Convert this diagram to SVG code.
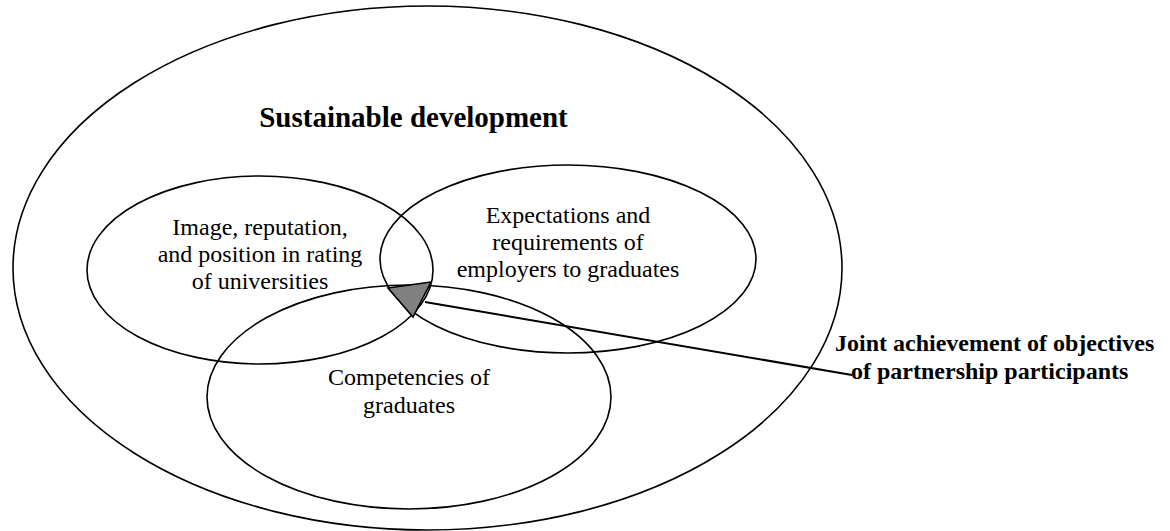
<svg xmlns="http://www.w3.org/2000/svg" width="1170" height="531" viewBox="0 0 1170 531">
<style>
.ring{fill:none;stroke:#000;stroke-width:1.6}
.t{font-family:"Liberation Serif","Times New Roman",serif;font-size:24px;fill:#000;text-anchor:middle}
.b{font-family:"Liberation Serif","Times New Roman",serif;font-weight:bold;fill:#000}
</style>
<rect width="1170" height="531" fill="#fff"/>
<g id="sustainable-development">
<ellipse class="ring" cx="427.5" cy="268" rx="414.5" ry="262"/>
<text class="b" x="413.5" y="127" font-size="29" text-anchor="middle">Sustainable development</text>
</g>
<g id="image-reputation">
<ellipse class="ring" cx="260" cy="270" rx="173" ry="94"/>
<text class="t" x="260" y="235">Image, reputation,</text>
<text class="t" x="260" y="262">and position in rating</text>
<text class="t" x="260" y="289">of universities</text>
</g>
<g id="expectations">
<ellipse class="ring" cx="568" cy="259" rx="188" ry="94"/>
<text class="t" x="568" y="223">Expectations and</text>
<text class="t" x="568" y="250">requirements of</text>
<text class="t" x="568" y="277">employers to graduates</text>
</g>
<g id="competencies">
<ellipse class="ring" cx="409" cy="397" rx="202" ry="112"/>
<text class="t" x="409" y="385">Competencies of</text>
<text class="t" x="409" y="413">graduates</text>
</g>
<g id="joint-achievement">
<text class="b" x="835" y="351" font-size="24">Joint achievement of objectives</text>
<text class="b" x="851" y="379" font-size="24">of partnership participants</text>
</g>
<g id="connectors">
<line x1="852" y1="375" x2="425" y2="302" stroke="#000" stroke-width="2"/>
<polygon points="388,288 431,282 413,317" fill="#808080" stroke="#000" stroke-width="1.6" stroke-linejoin="miter"/>
</g>
</svg>
